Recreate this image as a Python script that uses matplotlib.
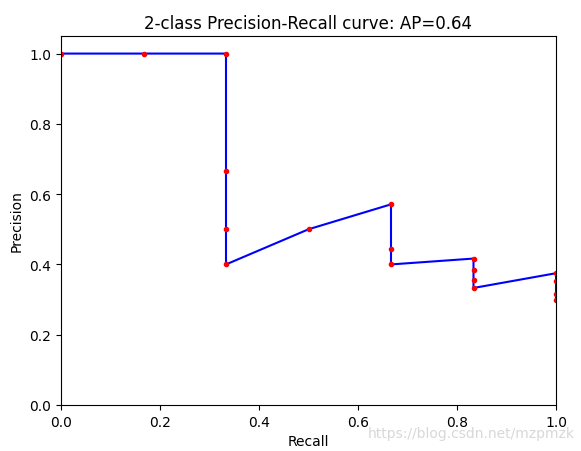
import matplotlib
matplotlib.use("Agg")
import matplotlib.pyplot as plt

recall = [1.0, 1.0, 1.0, 1.0,
          5/6, 5/6, 5/6, 5/6,
          2/3, 2/3, 2/3,
          0.5,
          1/3, 1/3, 1/3, 1/3,
          1/6, 0.0]
precision = [0.300, 0.316, 0.353, 0.375,
             0.333, 0.357, 0.385, 0.4167,
             0.400, 0.444, 0.571,
             0.500,
             0.400, 0.500, 0.667, 1.000,
             1.000, 1.000]
title = "2-class Precision-Recall curve: AP=0.64"

fig = plt.figure(figsize=(5.81, 4.52), dpi=100)
ax = fig.add_axes([61/581, 1-406/452, (556-61)/581, (406-37)/452])
ax.plot(recall, precision, color="blue", linewidth=1.5)
ax.plot(recall, precision, "r.", markersize=6)
ax.set_xlim(0.0, 1.0)
ax.set_ylim(0.0, 1.05)
ax.set_xlabel("Recall")
ax.set_ylabel("Precision")
ax.set_title(title)
fig.text(0.99, 0.025, "https://blog.csdn.net/mzpmzk", ha="right", va="bottom",
         color="#d8d8d8", fontsize=10)
fig.savefig("out.png", dpi=100)
